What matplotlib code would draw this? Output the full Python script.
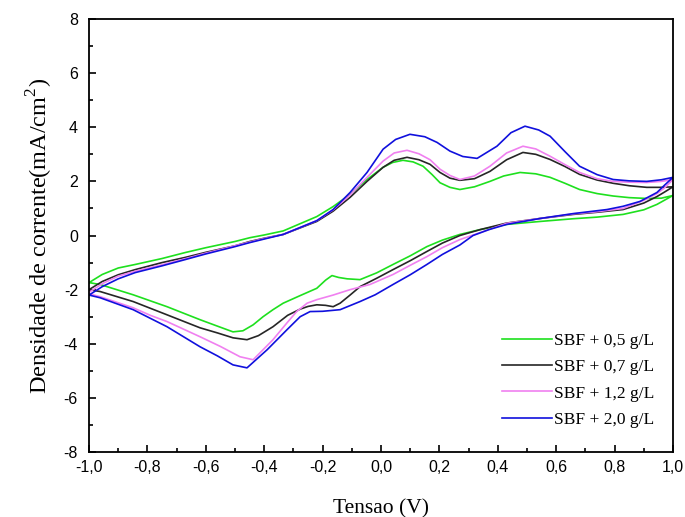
"""
Voltametria ciclica - SBF com diferentes concentracoes
"""
import numpy as np
import matplotlib
matplotlib.use('Agg')
import matplotlib.pyplot as plt
from matplotlib.ticker import MultipleLocator, FuncFormatter

plt.rcParams['mathtext.fontset'] = 'custom'
plt.rcParams['mathtext.rm'] = 'Liberation Serif'

labels = ['SBF + 0,5 g/L', 'SBF + 0,7 g/L', 'SBF + 1,2 g/L', 'SBF + 2,0 g/L']
colors = ['#1ee01e', '#262626', '#f080f0', '#1010dd']

# varredura anodica (-1 -> 1) e catodica (1 -> -1)
x_up_05 = [-1.0, -0.955, -0.9, -0.842, -0.75, -0.671, -0.6, -0.5, -0.449, -0.4, -0.335, -0.22, -0.164, -0.106, -0.048,
           0.007, 0.04, 0.075, 0.11, 0.144, 0.175, 0.202, 0.236, 0.27, 0.32, 0.373, 0.42, 0.476, 0.53, 0.579,
           0.63, 0.68, 0.74, 0.795, 0.85, 0.91, 0.96, 1.0]
y_up_05 = [-1.74, -1.44, -1.2, -1.07, -0.85, -0.63, -0.45, -0.22, -0.08, 0.02, 0.17, 0.7, 1.07, 1.52, 2.07,
           2.52, 2.7, 2.78, 2.72, 2.56, 2.25, 1.95, 1.78, 1.70, 1.8, 2.0, 2.2, 2.33, 2.28, 2.15,
           1.93, 1.70, 1.55, 1.46, 1.4, 1.37, 1.38, 1.48]
x_dn_05 = [1.0, 0.97, 0.945, 0.9, 0.829, 0.74, 0.658, 0.545, 0.43, 0.34, 0.27, 0.21, 0.157, 0.1, 0.041,
           -0.015, -0.072, -0.116, -0.145, -0.168, -0.19, -0.22, -0.277, -0.335, -0.37, -0.404, -0.438,
           -0.473, -0.507, -0.56, -0.62, -0.733, -0.849, -0.962, -1.0]
y_dn_05 = [1.48, 1.3, 1.15, 0.95, 0.78, 0.68, 0.62, 0.52, 0.41, 0.22, 0.04, -0.17, -0.41, -0.75, -1.07,
           -1.38, -1.63, -1.6, -1.55, -1.48, -1.65, -1.95, -2.22, -2.5, -2.74, -3.0, -3.3,
           -3.52, -3.56, -3.35, -3.11, -2.63, -2.19, -1.81, -1.74]

x_up_07 = [-1.0, -0.955, -0.9, -0.842, -0.75, -0.671, -0.6, -0.5, -0.449, -0.4, -0.335, -0.22, -0.164, -0.106, -0.048,
           0.007, 0.045, 0.089, 0.13, 0.168, 0.202, 0.236, 0.27, 0.32, 0.373, 0.43, 0.486, 0.53, 0.579,
           0.63, 0.68, 0.74, 0.795, 0.85, 0.91, 0.96, 1.0]
y_up_07 = [-2.0, -1.7, -1.45, -1.26, -1.0, -0.81, -0.62, -0.38, -0.22, -0.1, 0.04, 0.52, 0.9, 1.41, 2.0,
           2.52, 2.78, 2.89, 2.8, 2.63, 2.33, 2.12, 2.04, 2.1, 2.37, 2.8, 3.07, 3.0, 2.81,
           2.55, 2.26, 2.05, 1.93, 1.84, 1.78, 1.78, 1.8]
x_dn_07 = [1.0, 0.97, 0.945, 0.9, 0.829, 0.74, 0.658, 0.545, 0.43, 0.34, 0.27, 0.21, 0.157, 0.1, 0.041,
           -0.015, -0.072, -0.106, -0.14, -0.164, -0.19, -0.22, -0.25, -0.277, -0.32, -0.37, -0.42,
           -0.459, -0.507, -0.56, -0.62, -0.733, -0.849, -0.962, -1.0]
y_dn_07 = [1.8, 1.6, 1.44, 1.2, 0.96, 0.86, 0.78, 0.63, 0.46, 0.22, 0.0, -0.28, -0.59, -0.93, -1.26,
           -1.58, -1.89, -2.2, -2.5, -2.63, -2.58, -2.56, -2.62, -2.72, -2.95, -3.37, -3.7,
           -3.85, -3.78, -3.6, -3.41, -2.93, -2.44, -2.07, -2.0]

x_up_12 = [-1.0, -0.955, -0.9, -0.842, -0.75, -0.671, -0.6, -0.5, -0.449, -0.4, -0.335, -0.22, -0.164, -0.106, -0.048,
           0.007, 0.045, 0.089, 0.13, 0.168, 0.202, 0.236, 0.27, 0.32, 0.373, 0.43, 0.486, 0.53, 0.579,
           0.63, 0.68, 0.74, 0.795, 0.85, 0.91, 0.96, 1.0]
y_up_12 = [-2.1, -1.78, -1.5, -1.32, -1.08, -0.86, -0.65, -0.38, -0.24, -0.11, 0.04, 0.55, 0.95, 1.5, 2.15,
           2.75, 3.05, 3.15, 3.02, 2.8, 2.45, 2.22, 2.07, 2.2, 2.56, 3.05, 3.3, 3.2, 2.93,
           2.62, 2.33, 2.1, 2.0, 1.97, 1.96, 2.0, 2.07]
x_dn_12 = [1.0, 0.97, 0.945, 0.9, 0.829, 0.74, 0.658, 0.545, 0.43, 0.34, 0.27, 0.21, 0.157, 0.1, 0.041,
           -0.038, -0.106, -0.164, -0.22, -0.253, -0.288, -0.32, -0.37, -0.438, -0.483, -0.55, -0.62,
           -0.733, -0.79, -0.849, -0.962, -1.0]
y_dn_12 = [2.07, 1.75, 1.55, 1.3, 1.0, 0.88, 0.8, 0.63, 0.45, 0.11, -0.15, -0.45, -0.78, -1.1, -1.44,
           -1.81, -2.0, -2.2, -2.37, -2.5, -2.8, -3.2, -3.85, -4.59, -4.48, -4.1, -3.74,
           -3.18, -2.95, -2.67, -2.26, -2.15]

x_up_20 = [-1.0, -0.955, -0.9, -0.842, -0.75, -0.671, -0.6, -0.5, -0.449, -0.4, -0.335, -0.22, -0.164, -0.106, -0.048,
           0.007, 0.05, 0.099, 0.15, 0.192, 0.236, 0.28, 0.329, 0.397, 0.445, 0.493, 0.54, 0.579,
           0.63, 0.68, 0.74, 0.795, 0.85, 0.91, 0.96, 1.0]
y_up_20 = [-2.2, -1.89, -1.6, -1.37, -1.12, -0.89, -0.68, -0.41, -0.26, -0.13, 0.04, 0.55, 0.96, 1.59, 2.33,
           3.19, 3.55, 3.74, 3.65, 3.44, 3.12, 2.92, 2.85, 3.3, 3.8, 4.04, 3.9, 3.67,
           3.1, 2.56, 2.25, 2.07, 2.02, 2.0, 2.06, 2.15]
x_dn_20 = [1.0, 0.97, 0.945, 0.887, 0.829, 0.774, 0.658, 0.545, 0.43, 0.37, 0.315, 0.27, 0.21, 0.157, 0.1,
           0.041, -0.02, -0.072, -0.14, -0.2, -0.243, -0.277, -0.322, -0.39, -0.459, -0.507, -0.56,
           -0.62, -0.733, -0.849, -0.962, -1.0]
y_dn_20 = [2.15, 1.85, 1.59, 1.26, 1.08, 0.96, 0.81, 0.63, 0.41, 0.22, 0.0, -0.35, -0.7, -1.07, -1.45,
           -1.81, -2.19, -2.44, -2.74, -2.8, -2.81, -3.0, -3.48, -4.22, -4.89, -4.78, -4.45,
           -4.11, -3.37, -2.74, -2.3, -2.2]

curves = [
    (x_up_05 + x_dn_05, y_up_05 + y_dn_05),
    (x_up_07 + x_dn_07, y_up_07 + y_dn_07),
    (x_up_12 + x_dn_12, y_up_12 + y_dn_12),
    (x_up_20 + x_dn_20, y_up_20 + y_dn_20),
]

fig = plt.figure(figsize=(6.85, 5.17), dpi=100)
ax = fig.add_axes([0.130, 0.1257, 0.8525, 0.8375])

for (xs, ys), lab, c in zip(curves, labels, colors):
    ax.plot(xs, ys, color=c, lw=1.2, label=lab, solid_joinstyle='round')

ax.set_xlim(-1.0, 1.0)
ax.set_ylim(-8, 8)
ax.xaxis.set_major_locator(MultipleLocator(0.2))
ax.xaxis.set_minor_locator(MultipleLocator(0.1))
ax.yaxis.set_major_locator(MultipleLocator(2))
ax.yaxis.set_minor_locator(MultipleLocator(1))
ax.xaxis.set_major_formatter(FuncFormatter(lambda v, p: ('%.1f' % v).replace('.', ',').replace('-0,0', '0,0')))
ax.yaxis.set_major_formatter(FuncFormatter(lambda v, p: '%d' % round(v)))
ax.tick_params(which='both', direction='in', top=False, right=False, width=1.2,
               labelsize=11.5)
ax.tick_params(axis='x', pad=6)
ax.tick_params(axis='y', pad=8)
ax.tick_params(which='major', length=5)
ax.tick_params(which='minor', length=3)
for lab in ax.get_xticklabels() + ax.get_yticklabels():
    lab.set_family('Liberation Sans')
for s in ax.spines.values():
    s.set_linewidth(1.3)

ax.set_xlabel('Tensao (V)', family='Liberation Serif', fontsize=15.5, labelpad=17)
ax.set_ylabel(r'Densidade de corrente(mA/cm$^{\mathrm{2}}$)', family='Liberation Serif',
              fontsize=17.5, labelpad=6)

leg = ax.legend(loc='lower right', bbox_to_anchor=(0.995, 0.02), frameon=False,
                prop={'family': 'Liberation Serif', 'size': 12.5},
                handlelength=2.9, handletextpad=0.1, labelspacing=0.58)

fig.savefig('out.png', dpi=100)
